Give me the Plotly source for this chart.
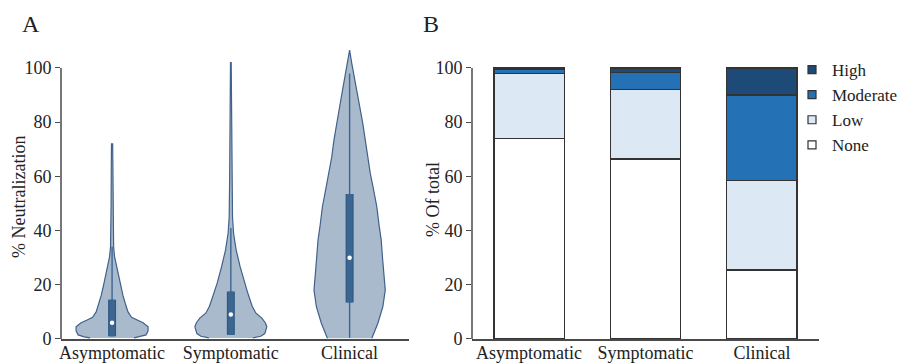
import plotly.graph_objects as go

# ---------------- data ----------------
categories = ["Asymptomatic", "Symptomatic", "Clinical"]
y_ticks = [0, 20, 40, 60, 80, 100]

# Panel A: violin outlines (y level, half-width in category units)
asym_y = [0.4, 0.8, 1.5, 3, 4.5, 6, 7, 8, 10, 13, 16, 19, 22, 25.5, 28, 30.4, 34, 40, 50, 60, 72]
asym_w = [0.185, 0.235, 0.286, 0.303, 0.303, 0.261, 0.210, 0.164, 0.134, 0.112, 0.092, 0.076,
          0.063, 0.048, 0.032, 0.021, 0.013, 0.009, 0.008, 0.007, 0.005]
symp_y = [0.4, 1.0, 2, 4.5, 6, 7.7, 9.6, 12, 14.4, 17.5, 20.6, 26.7, 32.8, 39, 45, 60, 80, 102]
symp_w = [0.185, 0.252, 0.286, 0.303, 0.290, 0.261, 0.210, 0.181, 0.162, 0.139, 0.115, 0.078,
          0.045, 0.023, 0.014, 0.010, 0.008, 0.003]
clin_y = [0.3, 5.8, 11.9, 18.1, 24.2, 30, 36.5, 42, 48.8, 55, 61.1, 67, 73.4, 80, 85.7, 92, 98, 102, 106.6]
clin_w = [0.187, 0.238, 0.280, 0.300, 0.288, 0.277, 0.266, 0.248, 0.229, 0.202, 0.174, 0.151,
          0.132, 0.109, 0.084, 0.059, 0.034, 0.017, 0.0]
violin_y = [asym_y, symp_y, clin_y]
violin_w = [asym_w, symp_w, clin_w]

# box summary statistics
q1 = [1.0, 1.5, 13.5]
median = [6.0, 9.0, 30.0]
q3 = [14.5, 17.5, 53.5]
lower = [1.0, 1.5, 0.5]
upper = [34.0, 41.0, 98.0]

# Panel B: stacked percentages
levels = ["None", "Low", "Moderate", "High"]
none_pct = [74.0, 66.5, 25.5]
low_pct = [24.0, 25.5, 33.0]
moderate_pct = [1.5, 6.3, 31.5]
high_pct = [0.5, 1.7, 10.0]
stack_values = [none_pct, low_pct, moderate_pct, high_pct]
level_colors = ["#ffffff", "#dce9f5", "#2571b6", "#1e4a78"]

# ---------------- figure ----------------
FONT = "Liberation Serif"
TXT = "#222222"
AX = "#4a4a4a"
VFILL = "#a9bacd"
VLINE = "#41608a"
BOXC = "#3c6690"

fig = go.Figure()

pos = list(range(len(categories)))
for i, (ys, ws) in enumerate(zip(violin_y, violin_w)):
    xs = [pos[i] - w for w in ws] + [pos[i] + w for w in reversed(ws)]
    yy = list(ys) + list(reversed(ys))
    fig.add_trace(go.Scatter(x=xs, y=yy, mode="lines", fill="toself",
                             fillcolor=VFILL, line=dict(color=VLINE, width=1.2),
                             showlegend=False, hoverinfo="skip", xaxis="x", yaxis="y"))

# whiskers and boxes (drawn as lines so they sit above the filled violins)
for i in pos:
    fig.add_trace(go.Scatter(x=[pos[i], pos[i]], y=[lower[i], upper[i]], mode="lines",
                             line=dict(color=BOXC, width=1.4),
                             showlegend=False, hoverinfo="skip", xaxis="x", yaxis="y"))
    fig.add_trace(go.Scatter(x=[pos[i], pos[i]], y=[q1[i], q3[i]], mode="lines",
                             line=dict(color="#2f5a85", width=8),
                             showlegend=False, hoverinfo="skip", xaxis="x", yaxis="y"))
    fig.add_trace(go.Scatter(x=[pos[i], pos[i]], y=[q1[i], q3[i]], mode="lines",
                             line=dict(color=BOXC, width=5.5),
                             showlegend=False, hoverinfo="skip", xaxis="x", yaxis="y"))
fig.add_trace(go.Scatter(x=pos, y=median, mode="markers",
                         marker=dict(color="white", size=4.5),
                         showlegend=False, hoverinfo="skip", xaxis="x", yaxis="y"))

for lvl, vals, col in zip(levels, stack_values, level_colors):
    fig.add_trace(go.Bar(x=pos, y=vals, width=0.605, name=lvl,
                         marker=dict(color=col, line=dict(color="#333333", width=1.5)),
                         showlegend=False, xaxis="x2", yaxis="y2"))

# legend entries (High on top)
for lvl, col in reversed(list(zip(levels, level_colors))):
    fig.add_trace(go.Scatter(x=[None], y=[None], mode="markers", name=lvl,
                             marker=dict(symbol="square", size=8, color=col,
                                         line=dict(color="#333333", width=1.2)),
                             xaxis="x2", yaxis="y2"))

ydom = [0.0687, 0.8728]
axis_y = dict(range=[0, 108], tickvals=y_ticks, ticks="outside", ticklen=5, tickwidth=1.3,
              tickcolor=AX, showline=False, showgrid=False, zeroline=False, automargin=False,
              tickfont=dict(family=FONT, size=18, color=TXT), domain=ydom)
axis_x = dict(tickvals=pos, ticktext=categories, ticks="", showline=True, linecolor=AX,
              linewidth=1.5, showgrid=False, zeroline=False, automargin=False,
              ticklabelstandoff=-3,
              tickfont=dict(family=FONT, size=18, color=TXT))

fig.update_layout(
    width=904, height=364,
    margin=dict(l=0, r=0, t=0, b=0, autoexpand=False),
    paper_bgcolor="white", plot_bgcolor="white",
    barmode="stack",
    font=dict(family=FONT, size=18, color=TXT),
    xaxis=dict(axis_x, domain=[61 / 904, 409 / 904], range=[-0.43, 2.5]),
    yaxis=dict(axis_y, anchor="x"),
    xaxis2=dict(axis_x, domain=[472 / 904, 819 / 904], range=[-0.49, 2.49], anchor="y2"),
    yaxis2=dict(axis_y, anchor="x2"),
    legend=dict(x=792 / 904, xanchor="left", y=1 - 52 / 364, yanchor="top",
                traceorder="normal",
                font=dict(family=FONT, size=17, color=TXT), bgcolor="rgba(0,0,0,0)",
                tracegroupgap=0),
    shapes=[
        dict(type="line", xref="x domain", yref="y", x0=0, x1=0, y0=0, y1=100,
             line=dict(color=AX, width=1.5)),
        dict(type="line", xref="x2 domain", yref="y2", x0=0, x1=0, y0=0, y1=100,
             line=dict(color=AX, width=1.5)),
    ],
    annotations=[
        dict(text="A", x=20 / 904, y=1 - 24 / 364, xref="paper", yref="paper",
             xanchor="left", yanchor="middle", showarrow=False,
             font=dict(family=FONT, size=24, color=TXT)),
        dict(text="B", x=421 / 904, y=1 - 24 / 364, xref="paper", yref="paper",
             xanchor="left", yanchor="middle", showarrow=False,
             font=dict(family=FONT, size=24, color=TXT)),
        dict(text="% Neutralization", x=19 / 904, y=1 - 197 / 364, xref="paper", yref="paper",
             textangle=-90, xanchor="center", yanchor="middle", showarrow=False,
             font=dict(family=FONT, size=18, color=TXT)),
        dict(text="% Of total", x=433 / 904, y=1 - 200 / 364, xref="paper", yref="paper",
             textangle=-90, xanchor="center", yanchor="middle", showarrow=False,
             font=dict(family=FONT, size=18, color=TXT)),
    ],
)

fig.write_html("out.html", config={"displayModeBar": False},
               post_script="document.body.style.margin='0';document.body.style.overflow='hidden';")
